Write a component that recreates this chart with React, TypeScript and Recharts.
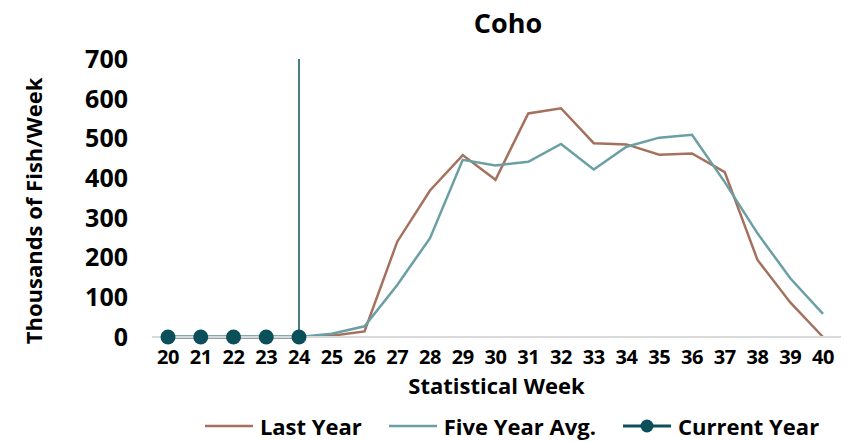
import { LineChart, Line, XAxis, YAxis, ReferenceLine, Legend, Customized } from 'recharts';

const weeks = [20, 21, 22, 23, 24, 25, 26, 27, 28, 29, 30, 31, 32, 33, 34, 35, 36, 37, 38, 39, 40];
const lastYear = [null, null, null, null, 0, 3, 14, 240, 369, 458, 396, 563, 576, 488, 485, 459, 462, 415, 194, 87, 0];
const fiveYearAvg = [null, null, null, null, 0, 8, 27, 131, 249, 446, 432, 441, 486, 422, 479, 502, 509, 390, 261, 148, 58];
const currentYear = [0, 0, 0, 0, 0, null, null, null, null, null, null, null, null, null, null, null, null, null, null, null, null];
const yTicks = [0, 100, 200, 300, 400, 500, 600, 700];

const data = weeks.map((w, i) => ({
  week: String(w),
  last: lastYear[i],
  avg: fiveYearAvg[i],
  current: currentYear[i],
}));

const FONT = '"Open Sans", sans-serif';
const BROWN = '#a5715f';
const TEAL = '#6a9fa3';
const DARK = '#0b4f5b';

const legendItems = [
  { label: 'Last Year', color: BROWN, dot: false },
  { label: 'Five Year Avg.', color: TEAL, dot: false },
  { label: 'Current Year', color: DARK, dot: true },
];

function LegendContent() {
  return (
    <div style={{ display: 'flex', justifyContent: 'center', alignItems: 'center', height: 30, gap: 27, fontFamily: FONT, fontWeight: 700, fontSize: 22, color: '#000', paddingLeft: 163 }}>
      {legendItems.map((item) => (
        <div key={item.label} style={{ display: 'flex', alignItems: 'center', gap: 7 }}>
          <svg width={48} height={16}>
            <line x1={0} y1={8} x2={48} y2={8} stroke={item.color} strokeWidth={item.dot ? 3 : 2.5} />
            {item.dot && <circle cx={24} cy={8} r={6.5} fill={item.color} />}
          </svg>
          <span>{item.label}</span>
        </div>
      ))}
    </div>
  );
}

function YLabel() {
  const cx = 33;
  const cy = 211;
  return (
    <text x={cx} y={cy} transform={`rotate(-90, ${cx}, ${cy})`} textAnchor="middle" dominantBaseline="central"
      fontFamily={FONT} fontWeight={700} fontSize={22} fill="#000">
      Thousands of Fish/Week
    </text>
  );
}

export default function App() {
  return (
    <div style={{ position: 'absolute', left: 0, top: 0, background: '#fff' }}>
      <LineChart width={849} height={441} data={data} margin={{ top: 59, right: 8, left: 20, bottom: 14 }}>
        <Customized
          component={() => (
            <text x={508} y={33} textAnchor="middle" fontFamily={FONT} fontWeight={700} fontSize={27} fill="#000">
              Coho
            </text>
          )}
        />
        <XAxis
          dataKey="week"
          height={60}
          padding={{ left: 16, right: 18 }}
          tickLine={false}
          axisLine={{ stroke: '#d9d9d9', strokeWidth: 2 }}
          tickMargin={7}
          interval={0}
          tick={{ fontFamily: FONT, fontWeight: 700, fontSize: 20, fill: '#000', letterSpacing: -0.5 }}
          label={{ value: 'Statistical Week', position: 'insideBottom', offset: 3, fontFamily: FONT, fontWeight: 700, fontSize: 22, fill: '#000' }}
        />
        <YAxis
          width={132}
          domain={[0, 700]}
          ticks={yTicks}
          interval={0}
          tickLine={false}
          axisLine={false}
          tickMargin={18}
          tick={{ fontFamily: FONT, fontWeight: 700, fontSize: 25, fill: '#000' }}
          label={<YLabel />}
        />
        <ReferenceLine x="24" stroke={DARK} strokeWidth={1.5} />
        <Line dataKey="last" name="Last Year" stroke={BROWN} strokeWidth={2.5} dot={false} isAnimationActive={false} />
        <Line dataKey="avg" name="Five Year Avg." stroke={TEAL} strokeWidth={2.5} dot={false} isAnimationActive={false} />
        <Line dataKey="current" name="Current Year" stroke={DARK} strokeWidth={3} dot={{ r: 7.5, fill: DARK, stroke: DARK, strokeWidth: 0 }} isAnimationActive={false} />
        <Legend verticalAlign="bottom" content={<LegendContent />} wrapperStyle={{ bottom: 0, height: 30 }} />
      </LineChart>
    </div>
  );
}
